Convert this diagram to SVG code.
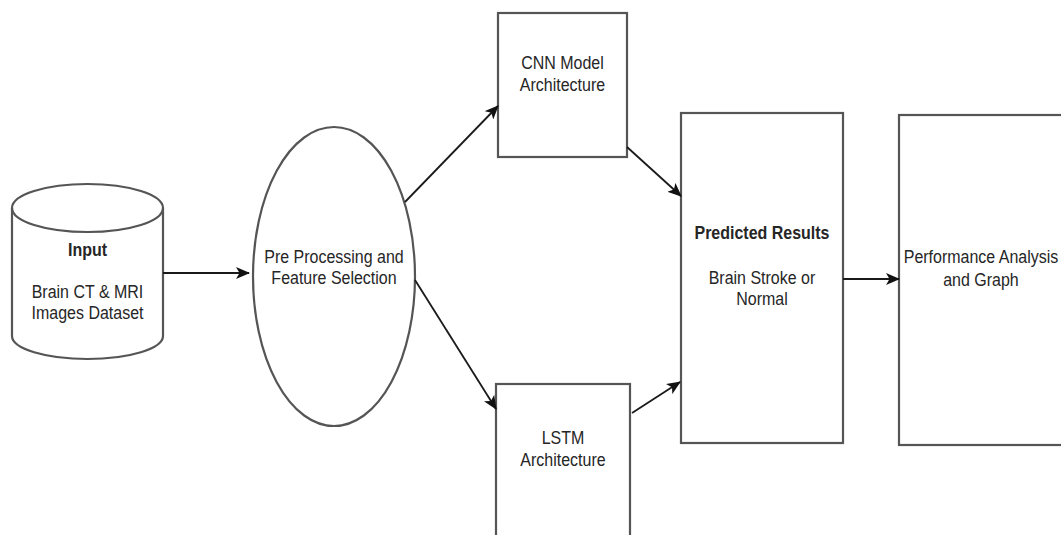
<svg xmlns="http://www.w3.org/2000/svg" width="1061" height="535" viewBox="0 0 1061 535">
  <style>
    .shape { fill: #ffffff; stroke: #555555; stroke-width: 2.2; }
    .edge { fill: none; stroke: #1a1a1a; stroke-width: 1.8; marker-end: url(#arrow); }
    .label { font-family: "Liberation Sans", Arial, sans-serif; font-size: 16px; fill: #262626; text-anchor: middle; }
    .bold { font-weight: bold; }
  </style>
  <defs>
    <marker id="arrow" viewBox="0 0 14 12" refX="13" refY="6" markerWidth="14" markerHeight="12" markerUnits="userSpaceOnUse" orient="auto">
      <path d="M0,0 L14,6 L0,12 L3.5,6 Z" fill="#111111"/>
    </marker>
  </defs>

  <rect width="1061" height="535" fill="#ffffff"/>

  <!-- Input data store -->
  <g id="input">
    <path class="shape" d="M12,208 L12,336 A75.5,23 0 0 0 163,336 L163,208 A75.5,24 0 0 0 12,208 Z"/>
    <path class="shape" style="fill:none" d="M12,208 A75.5,24 0 0 0 163,208"/>
    <text class="label bold" transform="translate(87.5,256) scale(1,1.12)">Input</text>
    <text class="label" transform="translate(87.5,298) scale(1,1.12)">Brain CT &amp; MRI</text>
    <text class="label" transform="translate(87.5,319) scale(1,1.12)">Images Dataset</text>
  </g>

  <!-- Pre-processing stage -->
  <g id="preprocess">
    <ellipse class="shape" cx="334" cy="276.5" rx="81" ry="149.5"/>
    <text class="label" transform="translate(334,263) scale(1,1.12)">Pre Processing and</text>
    <text class="label" transform="translate(334,284) scale(1,1.12)">Feature Selection</text>
  </g>

  <!-- CNN branch -->
  <g id="cnn">
    <rect class="shape" x="498" y="13" width="129" height="144"/>
    <text class="label" transform="translate(562.5,69) scale(1,1.12)">CNN Model</text>
    <text class="label" transform="translate(562.5,91) scale(1,1.12)">Architecture</text>
  </g>

  <!-- LSTM branch -->
  <g id="lstm">
    <rect class="shape" x="496" y="384" width="134" height="170"/>
    <text class="label" transform="translate(563,444) scale(1,1.12)">LSTM</text>
    <text class="label" transform="translate(563,466) scale(1,1.12)">Architecture</text>
  </g>

  <!-- Prediction output -->
  <g id="predicted">
    <rect class="shape" x="681" y="113" width="162" height="330"/>
    <text class="label bold" transform="translate(762,239) scale(1,1.12)">Predicted Results</text>
    <text class="label" transform="translate(762,284) scale(1,1.12)">Brain Stroke or</text>
    <text class="label" transform="translate(762,305) scale(1,1.12)">Normal</text>
  </g>

  <!-- Evaluation -->
  <g id="performance">
    <rect class="shape" x="899" y="115" width="180" height="330"/>
    <text class="label" transform="translate(981,263) scale(1,1.12)">Performance Analysis</text>
    <text class="label" transform="translate(981,286) scale(1,1.12)">and Graph</text>
  </g>

  <!-- Connectors -->
  <g id="connectors">
    <line class="edge" x1="163" y1="273" x2="249" y2="273"/>
    <line class="edge" x1="405" y1="202" x2="498" y2="106"/>
    <line class="edge" x1="415" y1="280" x2="496" y2="409"/>
    <line class="edge" x1="627" y1="147" x2="681" y2="196"/>
    <line class="edge" x1="632" y1="413" x2="680" y2="382"/>
    <line class="edge" x1="843" y1="279" x2="899" y2="279"/>
  </g>
</svg>
